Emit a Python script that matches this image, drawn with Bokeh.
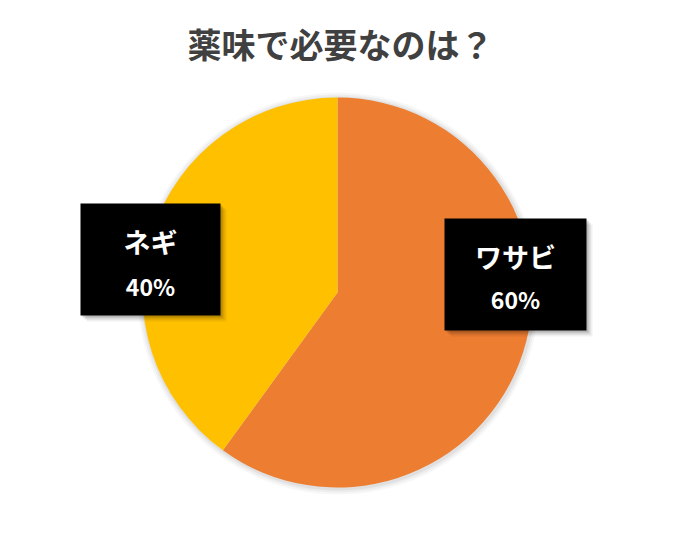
import math
from bokeh.plotting import figure
from bokeh.models import Range1d, ColumnDataSource
from bokeh.core.properties import value
from bokeh.embed import file_html
from bokeh.resources import INLINE

# ---- data ----
title_text = "薬味で必要なのは？"
categories = ["ワサビ", "ネギ"]
values = [60, 40]
colors = ["#ED7D31", "#FFC000"]

W, H = 667, 524
p = figure(width=W, height=H, output_backend="svg", toolbar_location=None,
           x_range=Range1d(0, W), y_range=Range1d(0, H), min_border=0)
p.axis.visible = False
p.grid.visible = False
p.outline_line_color = None
p.background_fill_color = "white"

def px(X):
    return X

def py(Y):
    return H - Y

cx, cy, r = px(337), py(292), 195

# faint shadow glow around the pie
for k, a in [(6, 0.03), (4, 0.04), (2, 0.05)]:
    p.circle(x=[cx + 1], y=[cy - 1], radius=r + k, fill_color="#000000",
             fill_alpha=a, line_color=None)

total = sum(values)
starts, ends = [], []
cum = 0.0
for v in values:
    a0 = math.pi / 2 - 2 * math.pi * cum / total
    cum += v
    a1 = math.pi / 2 - 2 * math.pi * cum / total
    starts.append(a1)
    ends.append(a0)

src = ColumnDataSource(dict(start=starts, end=ends, color=colors, cat=categories))
p.wedge(x=cx, y=cy, radius=r, start_angle="start", end_angle="end",
        direction="anticlock", fill_color="color", line_color=None, source=src)

# label boxes (layout)
box_left = [px(444), px(80)]
box_right = [px(586), px(220)]
box_top = [py(218), py(203)]
box_bottom = [py(330), py(315)]
cat_y = [py(256), py(241)]
pct_y = [py(298), py(285)]

for off, a in [(6, 0.06), (4, 0.1), (2, 0.15)]:
    p.quad(left=[l + off for l in box_left], right=[rr + off for rr in box_right],
           top=[t - off for t in box_top], bottom=[b - off for b in box_bottom],
           fill_color="#000000", fill_alpha=a, line_color=None)
p.quad(left=box_left, right=box_right, top=box_top, bottom=box_bottom,
       fill_color="#000000", line_color=None)

centers = [(l + rr) / 2 for l, rr in zip(box_left, box_right)]
pcts = [f"{round(100 * v / total)}%" for v in values]
p.text(x=centers, y=cat_y, text=categories, text_color="white",
       text_font=value("Noto Sans CJK JP"), text_font_style="bold",
       text_font_size="27px", text_align="center", text_baseline="middle")
p.text(x=centers, y=pct_y, text=pcts, text_color="white",
       text_font=value("Noto Sans CJK JP"), text_font_style="bold",
       text_font_size="23px", text_align="center", text_baseline="middle")

p.text(x=[px(340)], y=[py(43)], text=[title_text], text_color="#404040",
       text_font=value("Noto Sans CJK JP"), text_font_style="bold",
       text_font_size="34px", text_align="center", text_baseline="middle")

open("out.html", "w").write(file_html(p, INLINE))
